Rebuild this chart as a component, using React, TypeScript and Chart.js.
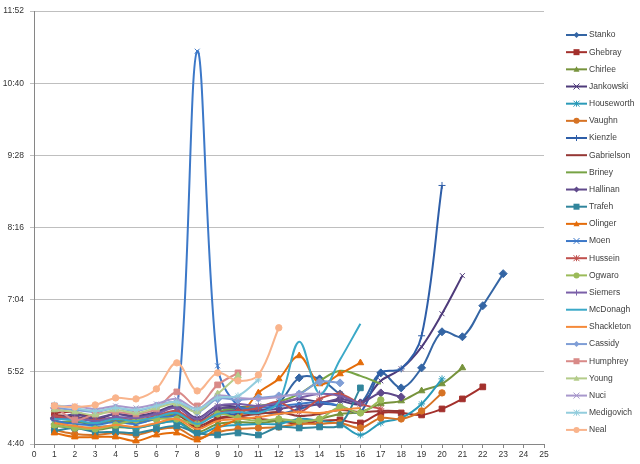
import React, { useEffect, useRef } from 'react';
import { Chart, registerables } from 'chart.js';

Chart.register(...registerables);

// Finishing times in seconds, one entry per week (week 1 onward)
const names = [
  'Stanko', 'Ghebray', 'Chirlee', 'Jankowski', 'Houseworth', 'Vaughn',
  'Kienzle', 'Gabrielson', 'Briney', 'Hallinan', 'Trafeh', 'Olinger',
  'Moen', 'Hussein', 'Ogwaro', 'Siemers', 'McDonagh', 'Shackleton',
  'Cassidy', 'Humphrey', 'Young', 'Nuci', 'Medigovich', 'Neal',
];

const stanko = [305, 307, 303, 306, 303, 308, 312, 300, 312, 314, 313, 321, 346, 345, 330, 321, 351, 336, 356, 392, 387, 418, 450];
const ghebray = [311, 312, 306, 305, 303, 306, 310, 296, 305, 307, 305, 303, 300, 303, 304, 301, 311, 311, 309, 315, 325, 337];
const chirlee = [298, 296, 294, 297, 296, 300, 303, 292, 300, 302, 301, 303, 302, 305, 310, 312, 320, 323, 333, 340, 356];
const jankowski = [303, 310, 305, 310, 308, 312, 318, 306, 318, 317, 318, 320, 325, 322, 323, 320, 343, 355, 377, 410, 448];
const houseworth = [300, 296, 297, 298, 296, 300, 302, 290, 297, 299, 300, 300, 305, 303, 300, 289, 301, 306, 320, 345];
const vaughn = [294, 290, 289, 291, 289, 294, 296, 286, 292, 295, 296, 297, 300, 300, 301, 296, 306, 305, 313, 331];
const kienzle = [300, 302, 300, 303, 301, 306, 310, 302, 309, 310, 312, 310, 315, 320, 318, 312, 351, 355, 388, 538];
const gabrielson = [309, 307, 303, 303, 302, 305, 309, 298, 306, 308, 310, 312, 308, 310, 314, 312, 313, 313];
const briney = [301, 303, 300, 303, 301, 305, 310, 300, 312, 316, 318, 322, 330, 343, 353, 348, 340];
const hallinan = [306, 309, 306, 310, 307, 311, 317, 303, 315, 316, 314, 315, 318, 320, 325, 321, 331, 327];
const trafeh = [293, 296, 292, 292, 291, 295, 298, 291, 289, 291, 289, 297, 296, 297, 299, 336];
const olinger = [291, 287, 287, 287, 283, 289, 291, 284, 296, 306, 331, 345, 368, 340, 350, 361];
const moen = [303, 300, 299, 302, 300, 306, 312, 672, 358, 318, 316, 318, 320, 322, 318];
const hussein = [308, 305, 304, 306, 304, 308, 313, 302, 311, 313, 316, 322, 312, 325, 330, 320, 315];
const ogwaro = [299, 296, 295, 299, 304, 305, 305, 300, 310, 306, 303, 305, 303, 305, 317, 311, 324];
const siemers = [304, 306, 303, 307, 306, 310, 316, 305, 318, 320, 318, 321, 326, 330, 328, 320];
const mcdonagh = [305, 304, 301, 305, 303, 307, 311, 300, 310, 312, 311, 322, 382, 330, 364, 400];
const shackleton = [301, 298, 296, 299, 297, 301, 305, 295, 303, 305, 307, 310, 312, 311, 314, 316];
const cassidy = [316, 314, 312, 316, 313, 318, 322, 312, 325, 324, 326, 328, 330, 342, 341];
const humphrey = [318, 304, 310, 312, 310, 315, 332, 318, 339, 351];
const young = [314, 312, 309, 314, 311, 316, 320, 312, 330, 348];
const nuci = [317, 318, 315, 318, 316, 320, 325, 315, 328, 326, 325, 327, 330, 330];
const medigovich = [319, 316, 313, 316, 314, 318, 322, 315, 326, 328, 344];
const neal = [318, 317, 319, 326, 325, 335, 361, 333, 351, 343, 349, 396];

const seriesValues = [
  stanko, ghebray, chirlee, jankowski, houseworth, vaughn,
  kienzle, gabrielson, briney, hallinan, trafeh, olinger,
  moen, hussein, ogwaro, siemers, mcdonagh, shackleton,
  cassidy, humphrey, young, nuci, medigovich, neal,
];

const colors = [
  '#3465A4', '#A3302C', '#77933C', '#4E3B7A', '#2A9AB8', '#D67325',
  '#2E5EA8', '#953735', '#77A345', '#604A8B', '#31859C', '#E46C0A',
  '#3C78C8', '#C0504D', '#9BBB59', '#7A5FA8', '#3BA9C8', '#F58A3A',
  '#7F9ED6', '#D98A88', '#B4CC8A', '#A898CC', '#93CDDD', '#F9B48C',
];

const markers = [
  'rectRot', 'rect', 'triangle', 'crossRot', 'star', 'circle',
  'cross', 'none', 'none', 'rectRot', 'rect', 'triangle',
  'crossRot', 'star', 'circle', 'cross', 'none', 'none',
  'rectRot', 'rect', 'triangle', 'crossRot', 'star', 'circle',
];

const yTicks = [280, 352, 424, 496, 568, 640, 712];
const xTicks = [0, 1, 2, 3, 4, 5, 6, 7, 8, 9, 10, 11, 12, 13, 14, 15, 16, 17, 18, 19, 20, 21, 22, 23, 24, 25];

const FONT = '"Liberation Sans", Arial, sans-serif';

function fmtTime(v: number) {
  const m = Math.floor(v / 60);
  const s = Math.round(v - m * 60);
  return `${m}:${String(s).padStart(2, '0')}`;
}

function radiusFor(style: string) {
  if (style === 'rect') return 4;
  if (style === 'rectRot') return 4;
  if (style === 'circle') return 3.2;
  if (style === 'triangle') return 3.8;
  return 3.5;
}

function drawMarker(ctx: CanvasRenderingContext2D, style: string, x: number, y: number, color: string) {
  if (style === 'none') return;
  const r = 3;
  ctx.fillStyle = color;
  ctx.strokeStyle = color;
  ctx.lineWidth = 1;
  ctx.beginPath();
  switch (style) {
    case 'circle':
      ctx.arc(x, y, r, 0, Math.PI * 2);
      ctx.fill();
      break;
    case 'rect':
      ctx.rect(x - r, y - r, 2 * r, 2 * r);
      ctx.fill();
      break;
    case 'rectRot':
      ctx.moveTo(x, y - r);
      ctx.lineTo(x + r, y);
      ctx.lineTo(x, y + r);
      ctx.lineTo(x - r, y);
      ctx.closePath();
      ctx.fill();
      break;
    case 'triangle':
      ctx.moveTo(x, y - r);
      ctx.lineTo(x + r, y + r * 0.8);
      ctx.lineTo(x - r, y + r * 0.8);
      ctx.closePath();
      ctx.fill();
      break;
    case 'cross':
      ctx.moveTo(x - r, y); ctx.lineTo(x + r, y);
      ctx.moveTo(x, y - r); ctx.lineTo(x, y + r);
      ctx.stroke();
      break;
    case 'crossRot':
      ctx.moveTo(x - r, y - r); ctx.lineTo(x + r, y + r);
      ctx.moveTo(x + r, y - r); ctx.lineTo(x - r, y + r);
      ctx.stroke();
      break;
    case 'star':
      ctx.moveTo(x - r, y - r); ctx.lineTo(x + r, y + r);
      ctx.moveTo(x + r, y - r); ctx.lineTo(x - r, y + r);
      ctx.moveTo(x, y - r); ctx.lineTo(x, y + r);
      ctx.stroke();
      break;
  }
}

const legendPlugin = {
  id: 'excelLegend',
  afterDraw(chart: any) {
    const ctx: CanvasRenderingContext2D = chart.ctx;
    ctx.save();
    const left = chart.chartArea.right + 22;
    names.forEach((name, i) => {
      const y = 35 + i * 17.17;
      ctx.strokeStyle = colors[i];
      ctx.lineWidth = 2;
      ctx.beginPath();
      ctx.moveTo(left, y);
      ctx.lineTo(left + 21, y);
      ctx.stroke();
      drawMarker(ctx, markers[i], left + 10.5, y, colors[i]);
      ctx.fillStyle = '#404040';
      ctx.font = `8.5px ${FONT}`;
      ctx.textBaseline = 'middle';
      ctx.textAlign = 'left';
      ctx.fillText(name, left + 23, y);
    });
    ctx.restore();
  },
};

export default function App() {
  const canvasRef = useRef<HTMLCanvasElement | null>(null);

  useEffect(() => {
    document.body.style.margin = '0';
    const canvas = canvasRef.current;
    if (!canvas) return;

    const datasets = names.map((name, i) => {
      const style = markers[i];
      return {
        label: name,
        data: seriesValues[i].map((v, j) => ({ x: j + 1, y: v })),
        borderColor: colors[i],
        backgroundColor: colors[i],
        pointStyle: style === 'none' ? false : style,
        pointRadius: style === 'none' ? 0 : radiusFor(style),
        pointBorderColor: colors[i],
        pointBackgroundColor: colors[i],
        pointBorderWidth: 1,
        borderWidth: 2,
        tension: 0.35,
        fill: false,
        order: names.length - i,
      };
    });

    const chart = new Chart(canvas, {
      type: 'line',
      data: { datasets: datasets as any },
      plugins: [legendPlugin],
      options: {
        animation: false,
        responsive: true,
        maintainAspectRatio: false,
        events: [],
        layout: { padding: { top: 7, right: 96, left: 0, bottom: 0 } },
        plugins: {
          legend: { display: false },
          tooltip: { enabled: false },
        },
        scales: {
          x: {
            type: 'linear',
            min: 0,
            max: 25,
            afterBuildTicks: (s: any) => { s.ticks = xTicks.map((v) => ({ value: v })); },
            afterFit: (s: any) => { s.height = 20; },
            grid: { drawOnChartArea: false, drawTicks: true, tickLength: 4, color: '#868686' },
            border: { color: '#868686', width: 1 },
            ticks: {
              font: { size: 8.5, family: FONT },
              color: '#333333',
              padding: 2,
              maxRotation: 0,
              autoSkip: false,
              callback: (v: any) => String(v),
            },
          },
          y: {
            type: 'linear',
            min: 280,
            max: 712,
            afterBuildTicks: (s: any) => { s.ticks = yTicks.map((v) => ({ value: v })); },
            afterFit: (s: any) => { s.width = 34; },
            grid: { color: '#BFBFBF', tickLength: 4, drawTicks: true },
            border: { color: '#868686', width: 1 },
            ticks: {
              font: { size: 8.5, family: FONT },
              color: '#333333',
              padding: 6,
              callback: (v: any) => fmtTime(Number(v)),
            },
          },
        },
      } as any,
    });

    return () => chart.destroy();
  }, []);

  return (
    <div style={{ width: 640, height: 464, position: 'relative', background: '#fff' }}>
      <canvas ref={canvasRef} />
    </div>
  );
}
